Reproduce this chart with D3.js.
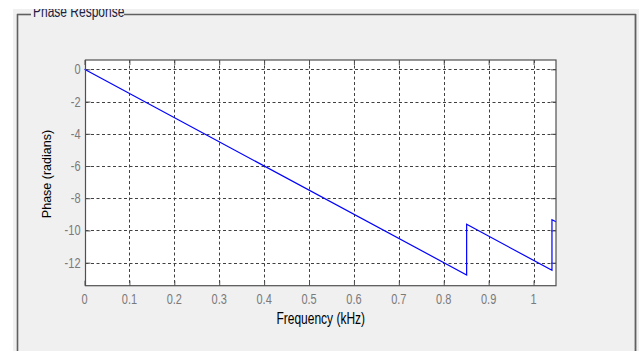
<!DOCTYPE html>
<html><head><meta charset="utf-8">
<script src="https://cdn.jsdelivr.net/npm/d3@7"></script>
<style>body{margin:0;background:#fff}svg{display:block}text{font-family:"Liberation Sans",Arial,sans-serif}</style>
</head><body>
<script>
// Data
const xTicks = [0, 0.1, 0.2, 0.3, 0.4, 0.5, 0.6, 0.7, 0.8, 0.9, 1];
const xTickLabels = ["0", "0.1", "0.2", "0.3", "0.4", "0.5", "0.6", "0.7", "0.8", "0.9", "1"];
const yTicks = [0, -2, -4, -6, -8, -10, -12];
const yTickLabels = ["0", "-2", "-4", "-6", "-8", "-10", "-12"];
const freq  = [0, 0.851, 0.851, 1.041, 1.041, 1.05];
const phase = [0, -12.76, -9.62, -12.47, -9.33, -9.46];
const title = "Phase Response";
const xLabel = "Frequency (kHz)";
const yLabel = "Phase (radians)";

const W = 639, H = 351;
const svg = d3.select("body").append("svg").attr("width", W).attr("height", H);
svg.append("rect").attr("width", W).attr("height", H).attr("fill", "#fff");
// panel
svg.append("rect").attr("x", 13).attr("y", 9).attr("width", W - 13).attr("height", H - 9).attr("fill", "#f0f0f0");
const bc = "#606060";
svg.append("line").attr("x1", 17.5).attr("x2", 17.5).attr("y1", 14).attr("y2", H).attr("stroke", bc).attr("stroke-width", 1.6);
svg.append("line").attr("x1", 17).attr("x2", 31).attr("y1", 14.5).attr("y2", 14.5).attr("stroke", bc).attr("stroke-width", 1.6);
svg.append("line").attr("x1", 124).attr("x2", 636).attr("y1", 14.5).attr("y2", 14.5).attr("stroke", bc).attr("stroke-width", 1.6);
svg.append("line").attr("x1", 635.5).attr("x2", 635.5).attr("y1", 14).attr("y2", H).attr("stroke", bc).attr("stroke-width", 1.8);
svg.append("text").attr("transform", "translate(33,17) scale(1,1.3)").attr("font-size", 12).attr("fill", "#202040").text(title);
svg.append("rect").attr("x", 0).attr("y", 0).attr("width", W).attr("height", 9).attr("fill", "#fff");

// axes
const L = 85.5, R = 556, T = 60, B = 285.7;
const x = d3.scaleLinear().domain([0, 1.05]).range([84.5, R]);
const y = d3.scaleLinear().domain([-13.43, 0.58]).range([B, T]);

svg.append("rect").attr("x", L).attr("y", T).attr("width", R - L).attr("height", B - T).attr("fill", "#fff");

const g = svg.append("g");
const gc = "#404040";
// gridlines
g.selectAll(".gx").data(xTicks.slice(1)).join("line")
  .attr("x1", d => Math.round(x(d)) + 0.5).attr("x2", d => Math.round(x(d)) + 0.5)
  .attr("y1", T).attr("y2", B).attr("stroke", gc).attr("stroke-dasharray", "3,2.5");
g.selectAll(".gy").data(yTicks).join("line")
  .attr("x1", L).attr("x2", R).attr("y1", d => Math.round(y(d)) + 0.5).attr("y2", d => Math.round(y(d)) + 0.5)
  .attr("stroke", gc).attr("stroke-dasharray", "3,2.5");

// axis ticks via d3 axes (inward ticks); labels drawn separately
const tl = 5;
const axB = d3.axisBottom(x).tickValues(xTicks).tickSize(-tl).tickFormat("");
const axT = d3.axisTop(x).tickValues(xTicks).tickSize(-tl).tickFormat("");
const axL = d3.axisLeft(y).tickValues(yTicks).tickSize(-tl).tickFormat("");
const axR = d3.axisRight(y).tickValues(yTicks).tickSize(-tl).tickFormat("");
function style(sel) {
  sel.select(".domain").remove();
  sel.selectAll(".tick line").attr("stroke", "#505050");
}
svg.append("g").attr("transform", `translate(0,${B})`).call(axB).call(style);
svg.append("g").attr("transform", `translate(0,${T})`).call(axT).call(style);
svg.append("g").attr("transform", `translate(${L},0)`).call(axL).call(style);
svg.append("g").attr("transform", `translate(${R},0)`).call(axR).call(style);

const tc = "#7a7a7a";
svg.append("g").selectAll("text").data(xTicks).join("text")
  .attr("transform", d => `translate(${x(d)},304) scale(1,1.35)`)
  .attr("text-anchor", "middle").attr("font-size", 11).attr("fill", tc)
  .text((d, i) => xTickLabels[i]);
svg.append("g").selectAll("text").data(yTicks).join("text")
  .attr("transform", d => `translate(80.5,${y(d) + 5}) scale(1,1.35)`)
  .attr("text-anchor", "end").attr("font-size", 11).attr("fill", tc)
  .text((d, i) => yTickLabels[i]);

// line
const pts = freq.map((f, i) => [f, phase[i]]);
svg.append("path").datum(pts)
  .attr("d", d3.line().x(d => x(d[0])).y(d => y(d[1])))
  .attr("fill", "none").attr("stroke", "#0000ff").attr("stroke-width", 1.2);

// box
svg.append("rect").attr("x", L).attr("y", T).attr("width", R - L).attr("height", B - T)
  .attr("fill", "none").attr("stroke", "#505050").attr("stroke-width", 1.2);

// labels
svg.append("text").attr("transform", `translate(${(L + R) / 2},323.5) scale(1,1.3)`)
  .attr("text-anchor", "middle").attr("font-size", 12).attr("fill", "#000").text(xLabel);
svg.append("text").attr("transform", `translate(51,${174}) rotate(-90)`)
  .attr("text-anchor", "middle").attr("font-size", 12.5).attr("fill", "#000").text(yLabel);
</script>
</body></html>
